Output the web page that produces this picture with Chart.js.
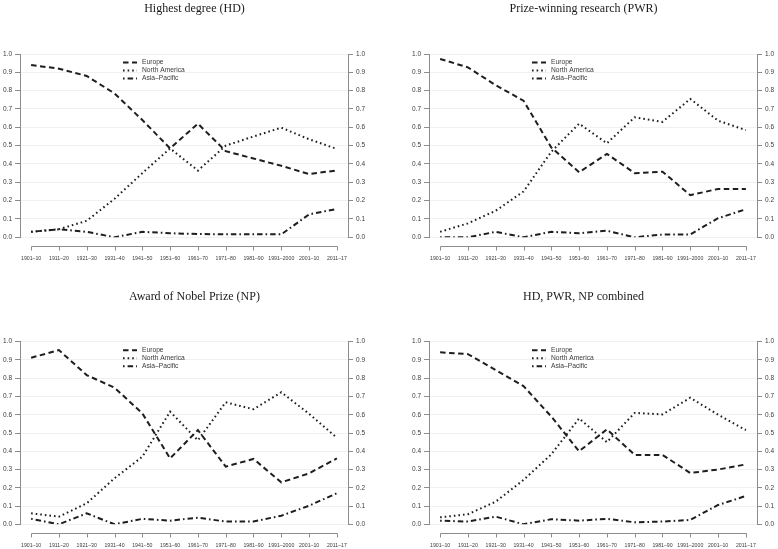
<!DOCTYPE html>
<html>
<head>
<meta charset="utf-8">
<title>Regional shares of Nobel laureates</title>
<script src="https://cdn.jsdelivr.net/npm/chart.js@4.4.1/dist/chart.umd.min.js"></script>
<style>
    html, body { margin: 0; padding: 0; background: #fff; }
    #wrap { position: relative; width: 778px; height: 549px; overflow: hidden; }
    #wrap canvas { position: absolute; }
</style>
</head>
<body>
<div id="wrap">
    <canvas id="chart-hd" width="389" height="275" style="left:0;top:0"></canvas>
    <canvas id="chart-pwr" width="389" height="275" style="left:389px;top:0"></canvas>
    <canvas id="chart-np" width="389" height="274" style="left:0;top:275px"></canvas>
    <canvas id="chart-all" width="389" height="274" style="left:389px;top:275px"></canvas>
</div>
<script>
var periods = ['1901–10', '1911–20', '1921–30', '1931–40', '1941–50', '1951–60',
    '1961–70', '1971–80', '1981–90', '1991–2000', '2001–10', '2011–17'];
var seriesNames = ['Europe', 'North America', 'Asia–Pacific'];

// Highest degree (HD)
var hdEurope = [0.94, 0.92, 0.88, 0.785, 0.64, 0.485, 0.62, 0.47, 0.43, 0.39, 0.345, 0.365];
var hdNorthAmerica = [0.03, 0.044, 0.09, 0.21, 0.35, 0.485, 0.364, 0.50, 0.55, 0.598, 0.535, 0.482];
var hdAsiaPacific = [0.03, 0.044, 0.03, 0.0, 0.03, 0.022, 0.018, 0.016, 0.016, 0.016, 0.125, 0.155];

// Prize-winning research (PWR)
var pwrEurope = [0.973, 0.927, 0.83, 0.745, 0.49, 0.355, 0.455, 0.35, 0.358, 0.23, 0.264, 0.264];
var pwrNorthAmerica = [0.03, 0.076, 0.145, 0.25, 0.467, 0.62, 0.513, 0.655, 0.63, 0.755, 0.636, 0.585];
var pwrAsiaPacific = [0.0, 0.0, 0.03, 0.0, 0.03, 0.022, 0.036, 0.0, 0.015, 0.016, 0.104, 0.153];

// Award of Nobel Prize (NP)
var npEurope = [0.912, 0.954, 0.817, 0.748, 0.608, 0.361, 0.516, 0.316, 0.358, 0.23, 0.279, 0.361];
var npNorthAmerica = [0.06, 0.042, 0.115, 0.252, 0.37, 0.617, 0.46, 0.668, 0.63, 0.723, 0.605, 0.474];
var npAsiaPacific = [0.03, 0.0, 0.06, 0.0, 0.03, 0.02, 0.036, 0.015, 0.015, 0.047, 0.102, 0.17];

// HD, PWR, NP combined
var allEurope = [0.942, 0.932, 0.845, 0.757, 0.59, 0.40, 0.52, 0.38, 0.38, 0.281, 0.30, 0.328];
var allNorthAmerica = [0.038, 0.055, 0.124, 0.243, 0.383, 0.58, 0.45, 0.61, 0.602, 0.693, 0.60, 0.516];
var allAsiaPacific = [0.02, 0.015, 0.042, 0.0, 0.028, 0.02, 0.03, 0.011, 0.015, 0.024, 0.106, 0.155];

(function () {
    'use strict';

    var AXIS_GREY = '#8c8c8c';
    var TEXT_GREY = '#3a3a3a';
    var LINE = '#1e1e1e';
    var dashes = [[5.5, 3.5], [1.6, 3], [1.6, 3, 5.5, 3]];

    Chart.defaults.font.family = "'Liberation Sans', Arial, sans-serif";

    function toPoints(values) {
        return values.map(function (v, i) {
            return { x: i, y: v };
        });
    }

    // R-style x axis: line only between first and last tick, set below the plot
    var offsetXAxis = {
        id: 'offsetXAxis',
        afterDraw: function (chart) {
            var sx = chart.scales.x;
            var ctx = chart.ctx;
            var y = Math.round(chart.chartArea.bottom + 9) + 0.5;
            var x1 = Math.round(sx.getPixelForValue(0)) + 0.5;
            var x2 = Math.round(sx.getPixelForValue(periods.length - 1)) + 0.5;
            ctx.save();
            ctx.strokeStyle = AXIS_GREY;
            ctx.lineWidth = 1;
            ctx.beginPath();
            ctx.moveTo(x1, y);
            ctx.lineTo(x2, y);
            for (var i = 0; i < periods.length; i++) {
                var px = Math.round(sx.getPixelForValue(i)) + 0.5;
                ctx.moveTo(px, y);
                ctx.lineTo(px, y + 4);
            }
            ctx.stroke();
            ctx.restore();
        },
    };

    var insetLegend = {
        id: 'insetLegend',
        afterDatasetsDraw: function (chart) {
            var ctx = chart.ctx;
            var area = chart.chartArea;
            var x0 = area.left + 103;
            var y0 = area.top + 8.5;
            ctx.save();
            chart.data.datasets.forEach(function (ds, i) {
                var y = y0 + i * 8;
                ctx.beginPath();
                ctx.setLineDash(ds.borderDash);
                ctx.lineWidth = ds.borderWidth;
                ctx.strokeStyle = ds.borderColor;
                ctx.moveTo(x0, y);
                ctx.lineTo(x0 + 14, y);
                ctx.stroke();
                ctx.setLineDash([]);
                ctx.fillStyle = TEXT_GREY;
                ctx.font = "6.7px 'Liberation Sans', Arial, sans-serif";
                ctx.textBaseline = 'middle';
                ctx.fillText(ds.label, x0 + 19, y);
            });
            ctx.restore();
        },
    };

    function yAxis(position, width, showGrid) {
        return {
            position: position,
            min: 0,
            max: 1,
            afterFit: function (scale) {
                scale.width = width;
            },
            ticks: {
                stepSize: 0.1,
                padding: 3,
                color: TEXT_GREY,
                font: { size: 6.5 },
                callback: function (v) {
                    return Number(v).toFixed(1);
                },
            },
            grid: {
                display: true,
                drawOnChartArea: showGrid,
                color: '#f0f0f0',
                tickColor: AXIS_GREY,
                tickLength: 5,
            },
            border: { display: true, color: AXIS_GREY },
        };
    }

    function makeChart(id, title, europe, northAmerica, asiaPacific, box) {
        var canvas = document.getElementById(id);
        var values = [europe, northAmerica, asiaPacific];
        return new Chart(canvas.getContext('2d'), {
            type: 'line',
            data: {
                datasets: values.map(function (vals, i) {
                    return {
                        label: seriesNames[i],
                        data: toPoints(vals),
                        borderColor: LINE,
                        borderWidth: 2,
                        borderDash: dashes[i],
                        borderCapStyle: 'butt',
                        pointRadius: 0,
                        tension: 0,
                        fill: false,
                        yAxisID: 'y',
                    };
                }),
            },
            options: {
                responsive: false,
                animation: false,
                events: [],
                layout: { padding: 0 },
                plugins: {
                    legend: { display: false },
                    tooltip: { enabled: false },
                    title: {
                        display: true,
                        text: title,
                        color: '#1a1a1a',
                        font: { family: "'Liberation Serif', 'Times New Roman', serif", size: 12, weight: 'normal' },
                        padding: { top: box.titleTop, bottom: box.titleBottom },
                    },
                },
                scales: {
                    x: {
                        type: 'linear',
                        min: -0.4,
                        max: 11.4,
                        afterBuildTicks: function (scale) {
                            scale.ticks = periods.map(function (p, i) {
                                return { value: i };
                            });
                        },
                        afterFit: function (scale) {
                            scale.height = box.xAxisH;
                        },
                        ticks: {
                            autoSkip: false,
                            maxRotation: 0,
                            padding: 3,
                            color: TEXT_GREY,
                            font: { size: 5.2 },
                            callback: function (v) {
                                return periods[v];
                            },
                        },
                        grid: { display: false, drawTicks: true, tickLength: 15 },
                        border: { display: false },
                    },
                    y: yAxis('left', box.leftW, true),
                    y1: yAxis('right', box.rightW, false),
                },
            },
            plugins: [offsetXAxis, insetLegend],
        });
    }

    var topLeft = { leftW: 20, rightW: 41, titleTop: 1.5, titleBottom: 38.1, xAxisH: 37.7 };
    var topRight = { leftW: 40, rightW: 21, titleTop: 1.5, titleBottom: 38.1, xAxisH: 37.7 };
    var bottomLeft = { leftW: 20, rightW: 41, titleTop: 14.5, titleBottom: 37.8, xAxisH: 24.7 };
    var bottomRight = { leftW: 40, rightW: 21, titleTop: 14.5, titleBottom: 37.8, xAxisH: 24.7 };

    makeChart('chart-hd', 'Highest degree (HD)', hdEurope, hdNorthAmerica, hdAsiaPacific, topLeft);
    makeChart('chart-pwr', 'Prize-winning research (PWR)', pwrEurope, pwrNorthAmerica, pwrAsiaPacific, topRight);
    makeChart('chart-np', 'Award of Nobel Prize (NP)', npEurope, npNorthAmerica, npAsiaPacific, bottomLeft);
    makeChart('chart-all', 'HD, PWR, NP combined', allEurope, allNorthAmerica, allAsiaPacific, bottomRight);
})();
</script>
</body>
</html>
